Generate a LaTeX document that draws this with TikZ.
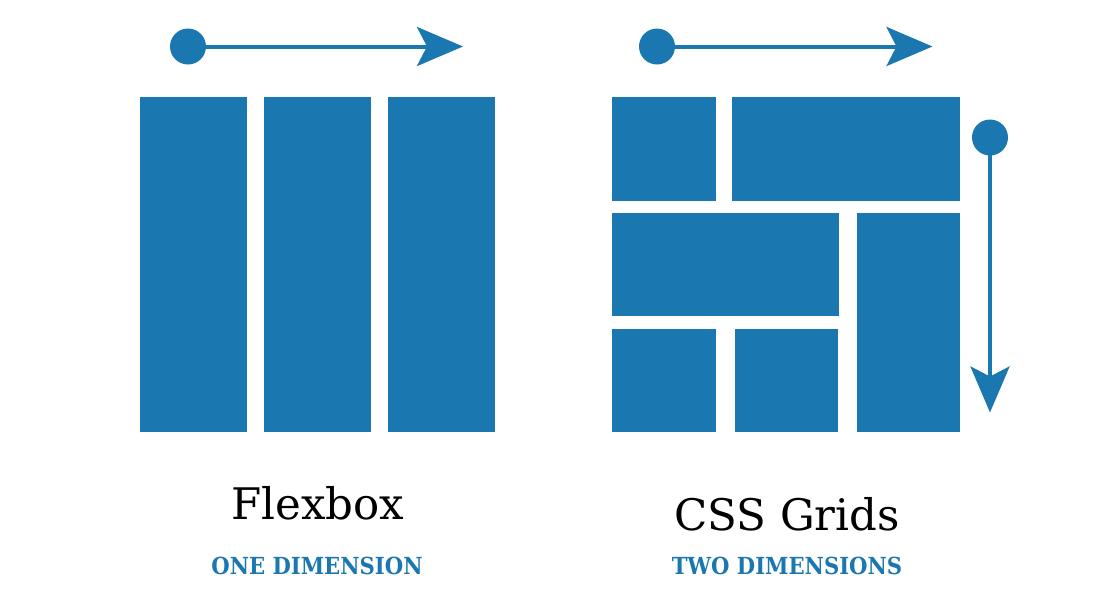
\documentclass[tikz,border=0pt]{standalone}
\usepackage{fontspec}
\usetikzlibrary{arrows.meta}
\newfontfamily\titlefont{DejaVu Serif}
\newfontfamily\labelfont{DejaVu Serif Condensed}
\definecolor{cssblue}{RGB}{27,119,175}
\tikzset{
  blk/.style={fill=cssblue, draw=none},
  dot/.style={circle, fill=cssblue, inner sep=0pt, minimum size=36pt},
  flow/.style={draw=cssblue, line width=4pt, -{Stealth[length=46pt 0 0, width=39pt 0 0, inset=10pt 0 0]}},
  title/.style={font=\titlefont\fontsize{43.5}{48}\selectfont, text=black, inner sep=0pt, anchor=base},
  sub/.style={font=\labelfont\bfseries\fontsize{23.5}{26}\selectfont, text=cssblue, inner sep=0pt, anchor=base},
}
\begin{document}
\begin{tikzpicture}[x=1pt,y=-1pt]
\useasboundingbox (0,0) rectangle (1100,600);
% Flexbox columns
\path[blk] (140,97) rectangle (247,432);
\path[blk] (264,97) rectangle (371,432);
\path[blk] (388,97) rectangle (495,432);
% Grid cells
\path[blk] (612,97) rectangle (716,200.5);
\path[blk] (732,97) rectangle (960,200.5);
\path[blk] (612,213) rectangle (839,316);
\path[blk] (857,213) rectangle (960,432);
\path[blk] (612,329) rectangle (716,432);
\path[blk] (734.5,329) rectangle (838,432);
% arrows
\node[dot] (d1) at (188,46.5) {};
\coordinate (e1) at (463,46.5);
\draw[flow] (d1.center) -- (e1);
\node[dot] (d2) at (657,46.5) {};
\coordinate (e2) at (932.5,46.5);
\draw[flow] (d2.center) -- (e2);
\node[dot] (d3) at (990,137.5) {};
\coordinate (e3) at (990,412.5);
\draw[flow] (d3.center) -- (e3);
% labels
\node[title] (t1) at (318,519) {Flexbox};
\node[title] (t2) at (787,530) {CSS Grids};
\node[sub] (s1) at (317,574) {ONE DIMENSION};
\node[sub] (s2) at (787,574) {TWO DIMENSIONS};
\end{tikzpicture}
\end{document}
